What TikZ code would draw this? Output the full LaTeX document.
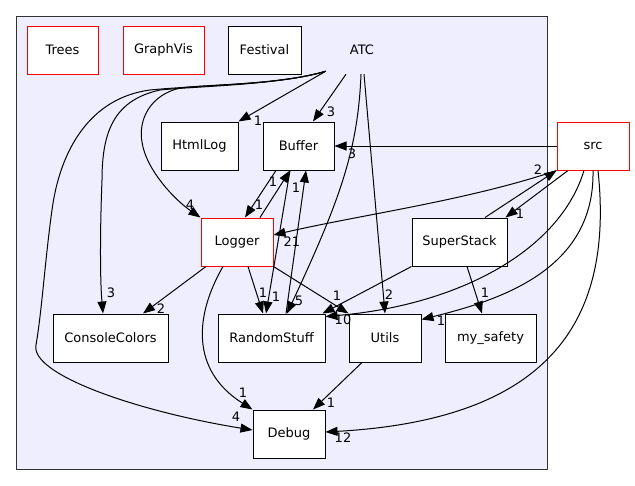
\documentclass[tikz,border=0pt]{standalone}
\usepackage{fontspec}
\setmainfont{DejaVu Sans}
\usetikzlibrary{arrows.meta}
\definecolor{clusterbg}{HTML}{EEEEFF}
\begin{document}
\begin{tikzpicture}[x=1pt,y=-1pt,
  dirbox/.style={draw=black, fill=white, line width=1pt, rectangle, inner sep=0pt,
    minimum height=48pt, font=\fontsize{13}{15}\selectfont},
  extbox/.style={dirbox, draw=red},
  dep/.style={draw=black, line width=1pt, -{Triangle[length=12pt,width=9pt]}},
  cnt/.style={inner sep=0pt, font=\fontsize{13}{15}\selectfont},
]
\useasboundingbox (0,0) rectangle (635,485);

% ATC cluster
\filldraw[fill=clusterbg, draw=black!80, line width=1pt] (16,16) rectangle (547,469);
\node[inner sep=0pt, minimum width=72pt, minimum height=48pt,
      font=\fontsize{13}{15}\selectfont] (ATC) at (362,50) {ATC};

% directories
\node[extbox, minimum width=71pt] (Trees) at (62.5,50) {Trees};
\node[extbox, minimum width=81pt] (GraphVis) at (163.5,50) {GraphVis};
\node[dirbox, minimum width=73pt] (Festival) at (264.5,50) {Festival};
\node[dirbox, minimum width=77pt] (HtmlLog) at (199.5,146) {HtmlLog};
\node[dirbox, minimum width=71pt] (Buffer) at (298.5,146) {Buffer};
\node[extbox, minimum width=72pt] (src) at (593,146) {src};
\node[extbox, minimum width=72pt] (Logger) at (237,242) {Logger};
\node[dirbox, minimum width=95pt] (SuperStack) at (459.5,242) {SuperStack};
\node[dirbox, minimum width=115pt] (ConsoleColors) at (110.5,338) {ConsoleColors};
\node[dirbox, minimum width=107pt] (RandomStuff) at (271.5,338) {RandomStuff};
\node[dirbox, minimum width=72pt] (Utils) at (385,338) {Utils};
\node[dirbox, minimum width=91pt] (mysafety) at (490.5,338) {my\_safety};
\node[dirbox, minimum width=72pt] (Debug) at (289,434) {Debug};

% dependencies of ATC
\draw[dep] ([yshift=3pt]ATC.south west) -- (HtmlLog.north east);
\draw[dep] ([xshift=-16pt]ATC.south) -- ([xshift=14.5pt]Buffer.north);
\draw[dep] ([yshift=3pt]ATC.south west) .. controls (280,85) and (210,84) .. (180,88)
  .. controls (150,95) and (138,120) .. (142,142)
  .. controls (146,170) and (175,200) .. (Logger.north west);
\draw[dep] ([yshift=3pt]ATC.south west) .. controls (280,85) and (200,86) .. (160,90)
  .. controls (115,100) and (102,130) .. (102,180)
  .. controls (100,230) and (100,280) .. ([xshift=-7.5pt]ConsoleColors.north);
\draw[dep] ([yshift=3pt]ATC.south west) .. controls (280,85) and (200,85) .. (150,90)
  .. controls (90,98) and (60,150) .. (52,210)
  .. controls (45,260) and (42,310) .. (36,345)
  .. controls (30,375) and (140,412) .. ([yshift=4pt]Debug.west);
\draw[dep] ([xshift=-1pt]ATC.south) .. controls (358,150) and (340,200) .. ([xshift=15.5pt]RandomStuff.north);
\draw[dep] ([xshift=2pt]ATC.south) -- (Utils.north);

% dependencies of src
\draw[dep] (src.west) -- (Buffer.east);
\draw[dep] (src.south west) .. controls (470,200) and (360,215) .. ([yshift=7pt]Logger.east);
\draw[dep] ([xshift=-25pt]src.south) -- ([xshift=-2pt]SuperStack.north east);
\draw[dep] ([xshift=-9pt]src.south) .. controls (560,250) and (460,305) .. ([yshift=-3pt]RandomStuff.north east);
\draw[dep] (src.south) .. controls (595,270) and (500,300) .. ([yshift=-6pt]Utils.north east);
\draw[dep] ([xshift=5pt]src.south) .. controls (615,330) and (540,420) .. ([yshift=2pt]Debug.east);

% dependencies between subdirectories
\draw[dep] ([xshift=25.5pt]SuperStack.north) -- (src.south west);
\draw[dep] ([xshift=-22.5pt]Buffer.south) -- ([xshift=8pt]Logger.north);
\draw[dep] ([xshift=23pt]Logger.north) -- ([xshift=-8.5pt]Buffer.south);
\draw[dep] ([xshift=-8.5pt]Buffer.south) -- ([xshift=-5.5pt]RandomStuff.north);
\draw[dep] ([xshift=14.5pt]RandomStuff.north) -- ([xshift=7.5pt]Buffer.south);
\draw[dep] ([xshift=11pt]Logger.south) -- ([xshift=-8.5pt]RandomStuff.north);
\draw[dep] ([xshift=-31pt]Logger.south) -- ([xshift=32.5pt]ConsoleColors.north);
\draw[dep] (Logger.south east) -- (Utils.north west);
\draw[dep] ([xshift=-14pt]Logger.south) .. controls (195,315) and (190,370) .. (Debug.north west);
\draw[dep] (SuperStack.south west) -- ([xshift=-3pt]RandomStuff.north east);
\draw[dep] ([xshift=7.5pt]SuperStack.south) -- ([xshift=-8.5pt]mysafety.north);
\draw[dep] ([xshift=-23pt]Utils.south) -- ([xshift=24pt]Debug.north);

% include counts
\node[cnt] (cHtml) at (258,121) {1};
\node[cnt] (cBufA) at (331,112) {3};
\node[cnt] (cLogA) at (190,205) {4};
\node[cnt] (cConA) at (111,293) {3};
\node[cnt] (cDebA) at (236,417) {4};
\node[cnt] (cRndA) at (299,301) {5};
\node[cnt] (cUtlA) at (389,295) {2};
\node[cnt] (cBufS) at (352,154) {3};
\node[cnt] (cLogS) at (292,242) {21};
\node[cnt] (cSrcS) at (538,170) {2};
\node[cnt] (cSupS) at (520,214) {1};
\node[cnt] (cRndS) at (343,320) {10};
\node[cnt] (cUtlS) at (441,321) {1};
\node[cnt] (cDebS) at (343,438) {12};
\node[cnt] (cLogB) at (259,205) {1};
\node[cnt] (cBufL) at (273,182) {1};
\node[cnt] (cRndB) at (276,297) {1};
\node[cnt] (cBufR) at (296,188) {1};
\node[cnt] (cRndL) at (263,293) {1};
\node[cnt] (cConL) at (161,309) {2};
\node[cnt] (cUtlL) at (337,296) {1};
\node[cnt] (cDebL) at (243,393) {1};
\node[cnt] (cMyS) at (485,293) {1};
\node[cnt] (cDebU) at (331,403) {1};
\end{tikzpicture}
\end{document}
